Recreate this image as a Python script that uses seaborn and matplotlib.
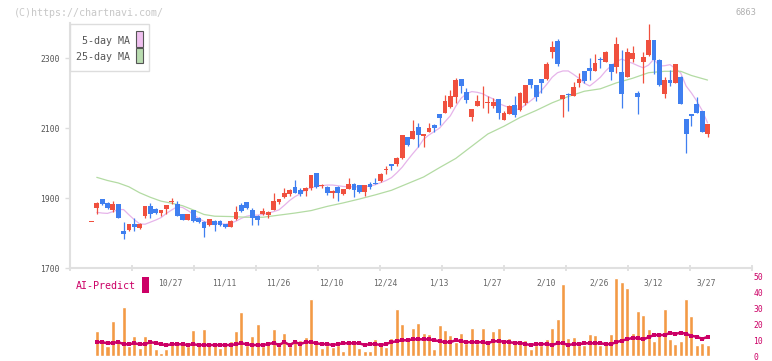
import numpy as np
import matplotlib
matplotlib.use("Agg")
import matplotlib.pyplot as plt
import seaborn as sns
from matplotlib.patches import Rectangle
from matplotlib.transforms import blended_transform_factory

# ---- data (index = trading day in window) ----
opens = [1831, 1872, 1897, 1885, 1865, 1882, 1806, 1809, 1826, 1815,
         1849, 1877, 1869, 1858, 1869, 1890, 1883, 1853, 1837, 1866,
         1844, 1832, 1823, 1834, 1834, 1826, 1818, 1839, 1880, 1888,
         1866, 1849, 1853, 1851, 1866, 1888, 1902, 1911, 1932, 1923,
         1921, 1928, 1971, 1934, 1932, 1915, 1932, 1911, 1926, 1940,
         1937, 1918, 1940, 1943, 1949, 1979, 1997, 1997, 2013, 2073,
         2069, 2102, 2077, 2090, 2110, 2140, 2144, 2161, 2189, 2240,
         2202, 2132, 2164, 2176, 2171, 2164, 2183, 2123, 2140, 2166,
         2151, 2171, 2240, 2223, 2240, 2239, 2318, 2349, 2183, 2196,
         2192, 2229, 2263, 2272, 2263, 2297, 2289, 2282, 2275, 2259,
         2247, 2297, 2199, 2289, 2309, 2351, 2294, 2197, 2237, 2229,
         2247, 2126, 2139, 2170, 2149, 2083]
highs = [1831, 1889, 1898, 1890, 1892, 1884, 1832, 1827, 1842, 1830,
         1878, 1887, 1871, 1867, 1881, 1899, 1891, 1855, 1855, 1867,
         1846, 1833, 1841, 1836, 1836, 1827, 1837, 1877, 1887, 1890,
         1871, 1852, 1871, 1862, 1913, 1898, 1929, 1926, 1951, 1929,
         1932, 1966, 1972, 1940, 1934, 1923, 1933, 1927, 1958, 1942,
         1938, 1938, 1946, 1956, 1971, 1992, 1998, 2018, 2081, 2075,
         2123, 2113, 2084, 2113, 2111, 2141, 2194, 2209, 2243, 2241,
         2215, 2155, 2194, 2220, 2191, 2186, 2184, 2150, 2167, 2191,
         2202, 2224, 2241, 2224, 2241, 2288, 2349, 2354, 2195, 2201,
         2232, 2256, 2264, 2301, 2311, 2304, 2320, 2283, 2361, 2323,
         2328, 2334, 2206, 2318, 2397, 2352, 2296, 2247, 2266, 2284,
         2248, 2127, 2140, 2189, 2150, 2112]
lows = [1831, 1853, 1880, 1868, 1859, 1843, 1782, 1806, 1807, 1812,
        1844, 1844, 1855, 1849, 1855, 1882, 1848, 1836, 1836, 1831,
        1828, 1789, 1820, 1807, 1820, 1815, 1817, 1838, 1859, 1870,
        1823, 1823, 1851, 1842, 1865, 1883, 1899, 1905, 1914, 1906,
        1906, 1923, 1929, 1929, 1909, 1899, 1892, 1909, 1925, 1904,
        1915, 1907, 1926, 1940, 1946, 1969, 1980, 1992, 2011, 2049,
        2068, 2047, 2045, 2089, 2090, 2109, 2143, 2156, 2171, 2199,
        2172, 2121, 2163, 2158, 2144, 2158, 2126, 2122, 2139, 2132,
        2148, 2166, 2214, 2178, 2199, 2237, 2299, 2277, 2132, 2149,
        2191, 2218, 2228, 2237, 2262, 2272, 2288, 2237, 2256, 2158,
        2245, 2288, 2140, 2229, 2307, 2253, 2221, 2187, 2221, 2228,
        2168, 2029, 2106, 2143, 2088, 2075]
closes = [1831, 1887, 1882, 1871, 1883, 1844, 1798, 1826, 1818, 1826,
          1877, 1853, 1858, 1866, 1880, 1892, 1849, 1837, 1853, 1834,
          1832, 1813, 1840, 1823, 1823, 1818, 1834, 1859, 1864, 1871,
          1844, 1837, 1863, 1859, 1891, 1897, 1913, 1923, 1915, 1911,
          1929, 1966, 1932, 1936, 1915, 1921, 1915, 1926, 1940, 1923,
          1918, 1937, 1932, 1941, 1969, 1981, 1992, 2015, 2080, 2051,
          2091, 2080, 2083, 2101, 2101, 2128, 2178, 2191, 2237, 2221,
          2180, 2154, 2178, 2178, 2173, 2175, 2144, 2144, 2164, 2137,
          2201, 2223, 2223, 2189, 2229, 2283, 2332, 2282, 2194, 2193,
          2218, 2240, 2235, 2264, 2285, 2294, 2318, 2261, 2340, 2197,
          2316, 2313, 2189, 2304, 2351, 2294, 2223, 2237, 2229, 2283,
          2169, 2083, 2134, 2144, 2089, 2111]

volume = [0, 16.1, 10.3, 6.8, 22.2, 10.9, 31.1, 6.8, 12.8, 5.5,
          12.8, 8.6, 4.7, 2.2, 4.7, 7.6, 9.7, 7.6, 6.6, 16.6,
          8.9, 17.2, 8.9, 8.3, 5.5, 7.0, 9.9, 16.1, 28.0, 7.0,
          12.5, 20.3, 6.4, 8.9, 17.2, 6.4, 14.7, 6.2, 10.9, 10.3,
          12.2, 35.9, 8.6, 5.3, 7.2, 6.0, 7.2, 3.4, 10.3, 8.3,
          5.3, 3.4, 3.4, 10.9, 8.7, 6.0, 11.6, 29.7, 20.3, 11.8,
          17.8, 20.9, 14.7, 14.1, 4.3, 19.7, 16.6, 13.4, 8.9, 14.7,
          8.6, 17.8, 8.6, 17.8, 9.7, 15.9, 17.8, 10.9, 11.6, 10.3,
          10.3, 10.3, 4.7, 7.2, 7.2, 10.9, 17.8, 23.4, 45.3, 11.6,
          12.2, 7.2, 7.2, 14.1, 13.4, 7.2, 8.3, 14.1, 49.1, 46.8,
          42.8, 14.9, 28.4, 25.9, 17.2, 9.7, 15.3, 29.7, 10.9, 7.8,
          9.7, 35.9, 25.3, 7.2, 8.3, 7.2]

# AI-Predict, days 1..115
ai_predict = [8.9, 8.9, 8.2, 8.4, 9.0, 7.6, 7.6, 8.2, 7.6, 7.6,
              8.9, 8.4, 7.6, 7.0, 7.6, 7.6, 7.6, 7.1, 7.6, 7.1,
              7.1, 7.1, 7.1, 7.1, 7.1, 7.1, 7.6, 8.2, 7.6, 7.1,
              7.1, 7.1, 7.7, 8.4, 7.1, 8.9, 7.1, 8.9, 7.7, 8.9,
              8.9, 8.2, 7.7, 7.7, 7.1, 7.7, 8.2, 8.2, 8.2, 8.2,
              7.1, 7.7, 7.7, 7.1, 7.7, 8.9, 9.5, 10.1, 10.1, 10.7,
              10.7, 10.7, 10.7, 10.1, 9.5, 8.9, 8.9, 10.1, 9.5, 8.9,
              8.9, 8.9, 8.9, 8.2, 9.5, 9.5, 9.3, 8.9, 8.4, 8.4,
              7.7, 7.1, 7.7, 7.7, 7.7, 7.1, 8.2, 8.2, 7.1, 7.7,
              7.7, 8.2, 8.2, 8.2, 8.2, 7.7, 7.7, 8.9, 9.9, 10.7,
              11.6, 11.4, 10.7, 12.0, 13.4, 13.4, 13.4, 14.7, 14.1, 14.9,
              14.1, 12.9, 12.3, 11.0, 12.2]

# 5-day MA, days 1..115
ma5 = [1859, 1857, 1856, 1861, 1867, 1867, 1852, 1838, 1826, 1825,
       1831, 1837, 1844, 1856, 1866, 1875, 1873, 1864, 1854, 1842,
       1833, 1829, 1828, 1827, 1825, 1828, 1834, 1842, 1848, 1851,
       1851, 1853, 1857, 1861, 1866, 1879, 1893, 1904, 1912, 1924,
       1929, 1933, 1935, 1937, 1937, 1935, 1933, 1932, 1932, 1932,
       1932, 1934, 1938, 1944, 1950, 1958, 1972, 1988, 2008, 2027,
       2045, 2068, 2080, 2090, 2100, 2118, 2135, 2162, 2185, 2198,
       2204, 2202, 2198, 2190, 2183, 2170, 2164, 2158, 2152, 2155,
       2166, 2178, 2190, 2207, 2225, 2245, 2258, 2263, 2263, 2253,
       2242, 2228, 2220, 2232, 2245, 2263, 2278, 2290, 2297, 2290,
       2285, 2278, 2272, 2280, 2297, 2277, 2278, 2281, 2270, 2257,
       2220, 2200, 2177, 2150, 2115]

# 25-day MA, read at these days
ma25_days = [1, 3, 5, 7, 9, 11, 13, 15, 17, 19, 21, 23, 26, 29, 32, 35, 38,
             41, 44, 47, 50, 53, 56, 59, 62, 65, 68, 71, 74, 77, 80, 83, 86,
             89, 92, 95, 98, 101, 104, 107, 110, 112, 115]
ma25 = [1959, 1950, 1943, 1932, 1915, 1902, 1891, 1885, 1878, 1866, 1853,
        1848, 1847, 1845, 1845, 1851, 1857, 1864, 1876, 1886, 1897, 1909,
        1922, 1941, 1960, 1987, 2013, 2048, 2083, 2105, 2130, 2150, 2172,
        2190, 2205, 2212, 2229, 2242, 2258, 2262, 2262, 2250, 2237]

date_days = [15, 25, 35, 45, 55, 65, 75, 85, 95, 105, 115]
date_labels = ["10/27", "11/11", "11/26", "12/10", "12/24", "1/13",
               "1/27", "2/10", "2/26", "3/12", "3/27"]

# ---- style ----
W, H = 772, 361
UP, DOWN = "#f0503e", "#3f7ff0"
MAGENTA = "#cc0066"
sns.set_style("white")
plt.rcParams["font.family"] = ["DejaVu Sans Mono"]


def fx(px):
    return px / W


def fy(py):
    return 1 - py / H


days = np.arange(len(opens))
o, h, l, c = map(np.array, (opens, highs, lows, closes))
cols = np.where(c >= o, UP, DOWN)
body_lo = np.minimum(o, c)
body_h = np.maximum(np.abs(c - o), 2.5)

XMIN, XMAX = -4.0, 123.3

fig = plt.figure(figsize=(W / 100, H / 100), dpi=100)
ax = fig.add_axes([fx(70), fy(268), 682 / W, 245 / H])
ax2 = fig.add_axes([fx(70), fy(356.3), 682 / W, 79.4 / H])

# moving averages
sns.lineplot(x=days[1:], y=ma5, ax=ax, color="#e6b4ea", lw=0.9, zorder=1)
sns.lineplot(x=ma25_days, y=ma25, ax=ax, color="#b3dba3", lw=0.9, zorder=1)

# candles
ax.vlines(days, l, h, colors=cols, lw=0.9, zorder=2)
ax.bar(days, body_h, bottom=body_lo, width=0.9, color=cols, lw=0, zorder=3)

ax.set_xlim(XMIN, XMAX)
ax.set_ylim(1700, 2400)
ax.set_yticks([1700, 1900, 2100, 2300])
ax.set_xticks(np.linspace(XMIN, XMAX, 12))
ax.set_xticklabels([])
ax.tick_params(axis="y", length=3.6, width=1, color="#dddddd", pad=4,
               labelsize=5.8, labelcolor="#555555", left=True)
ax.tick_params(axis="x", direction="inout", length=4.5, width=1.2,
               color="#dddddd", bottom=True)
for side in ["top", "right"]:
    ax.spines[side].set_visible(False)
for side in ["left", "bottom"]:
    ax.spines[side].set_color("#e0e0e0")
    ax.spines[side].set_linewidth(1.5)
ax.set_xlabel("")
ax.set_ylabel("")

# volume + AI-Predict
sns.barplot(x=days, y=volume, ax=ax2, native_scale=True, width=0.75,
            color="#f39a45", saturation=1, errorbar=None, zorder=1)
sns.lineplot(x=days[1:], y=ai_predict, ax=ax2, color=MAGENTA, lw=1.8,
             marker="s", markersize=2.6, markeredgewidth=0, zorder=3)
ax2.set_xlim(XMIN, XMAX)
ax2.set_ylim(0, 50)
ax2.set_yticks([0, 10, 20, 30, 40, 50])
ax2.yaxis.tick_right()
ax2.tick_params(axis="y", length=0, pad=1, labelsize=5.8,
                labelcolor=MAGENTA)
ax2.set_xticks([])
for side in ax2.spines:
    ax2.spines[side].set_visible(False)
ax2.set_xlabel("")
ax2.set_ylabel("")
ax2.patch.set_alpha(0)

# date labels between the panels
tr = blended_transform_factory(ax.transData, fig.transFigure)
for d, lab in zip(date_days, date_labels):
    ax.text(d - 0.2, fy(282.5), lab, transform=tr, ha="center", va="center",
            fontsize=5.8, color="#666666", clip_on=False)

# header
fig.text(fx(14), fy(12.5), "(C)https://chartnavi.com/", ha="left",
         va="center", fontsize=7.2, color="#c8c8c8")
fig.text(fx(757), fy(12.5), "6863", ha="right", va="center",
         fontsize=6.2, color="#b0b0b0")

# legend box
fig.add_artist(Rectangle((fx(70.3), fy(71)), 78.4 / W, 46.7 / H,
                         transform=fig.transFigure, facecolor="white",
                         edgecolor="#dddddd", lw=1, zorder=5))
fig.add_artist(Rectangle((fx(136.3), fy(46.7)), 6.3 / W, 15.5 / H,
                         transform=fig.transFigure, facecolor="#efc0ef",
                         edgecolor="#555555", lw=0.8, zorder=6))
fig.add_artist(Rectangle((fx(136.3), fy(63.3)), 6.3 / W, 15 / H,
                         transform=fig.transFigure, facecolor="#b9dcb0",
                         edgecolor="#555555", lw=0.8, zorder=6))
fig.text(fx(129.5), fy(40.7), "5-day MA", ha="right", va="center",
         fontsize=7.2, color="#555555", zorder=7)
fig.text(fx(129.5), fy(57.3), "25-day MA", ha="right", va="center",
         fontsize=7.2, color="#555555", zorder=7)

# AI-Predict label
fig.text(fx(76), fy(286), "AI-Predict", ha="left", va="center",
         fontsize=7.2, color=MAGENTA)
fig.add_artist(Rectangle((fx(142.3), fy(293)), 6.3 / W, 16 / H,
                         transform=fig.transFigure, facecolor=MAGENTA,
                         lw=0, zorder=5))

fig.savefig("out.png", dpi=100)
